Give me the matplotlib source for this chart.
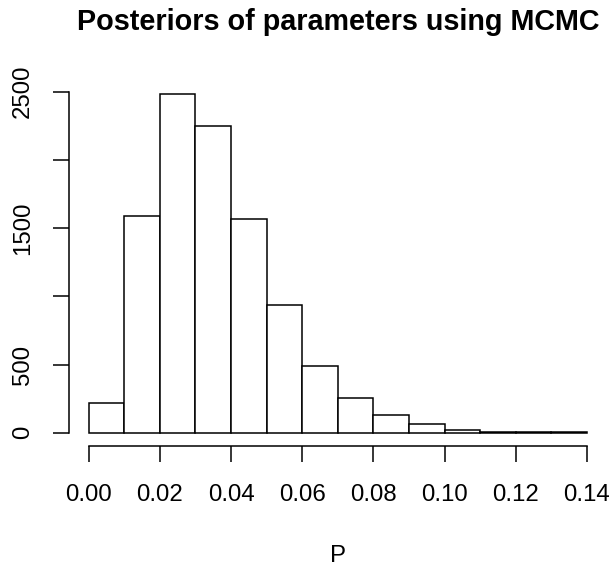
import numpy as np
import matplotlib
matplotlib.use("Agg")
import matplotlib.pyplot as plt

plt.rcParams['font.family'] = ['Liberation Sans', 'DejaVu Sans']

# Histogram of posterior draws of P
bin_edges = [0.00, 0.01, 0.02, 0.03, 0.04, 0.05, 0.06, 0.07,
             0.08, 0.09, 0.10, 0.11, 0.12, 0.13, 0.14]
counts = [221, 1588, 2480, 2252, 1568, 936, 493, 255,
          132, 61, 22, 9, 5, 7]
x_ticks = [0.00, 0.02, 0.04, 0.06, 0.08, 0.10, 0.12, 0.14]
x_tick_labels = ["0.00", "0.02", "0.04", "0.06", "0.08", "0.10", "0.12", "0.14"]
y_ticks = [0, 500, 1000, 1500, 2000, 2500]
y_tick_labels = ["0", "500", "", "1500", "", "2500"]

W, H = 616, 569
fig = plt.figure(figsize=(W / 100, H / 100), dpi=100)
ax = fig.add_axes([68.8 / W, 1 - 446.3 / H, (606.9 - 68.8) / W, (446.3 - 80.9) / H])

lefts = bin_edges[:-1]
widths = np.diff(bin_edges)
ax.bar(lefts, counts, width=widths, align='edge', facecolor='white',
       edgecolor='black', linewidth=1.1)

xmin, xmax = bin_edges[0], bin_edges[-1]
xpad = 0.04 * (xmax - xmin)
ymax = max(counts)
ypad = 0.04 * ymax
ax.set_xlim(xmin - xpad, xmax + xpad)
ax.set_ylim(-ypad, ymax + ypad)

for side in ('top', 'right'):
    ax.spines[side].set_visible(False)
ax.spines['bottom'].set_bounds(x_ticks[0], x_ticks[-1])
ax.spines['left'].set_bounds(y_ticks[0], y_ticks[-1])
for side in ('bottom', 'left'):
    ax.spines[side].set_linewidth(1.1)

ax.set_xticks(x_ticks)
ax.set_xticklabels(x_tick_labels)
ax.set_yticks(y_ticks)
ax.set_yticklabels(y_tick_labels, rotation=90, va='center')
ax.tick_params(axis='both', direction='out', length=11.2, width=1.1,
               labelsize=17.3, color='black')
ax.tick_params(axis='x', pad=16)
ax.tick_params(axis='y', pad=14)

ax.set_xlabel("P", fontsize=17.3, labelpad=28)
ax.set_title("Posteriors of parameters using MCMC", fontsize=20.7,
             fontweight='bold', pad=36.5)

fig.savefig("out.png", dpi=100)
